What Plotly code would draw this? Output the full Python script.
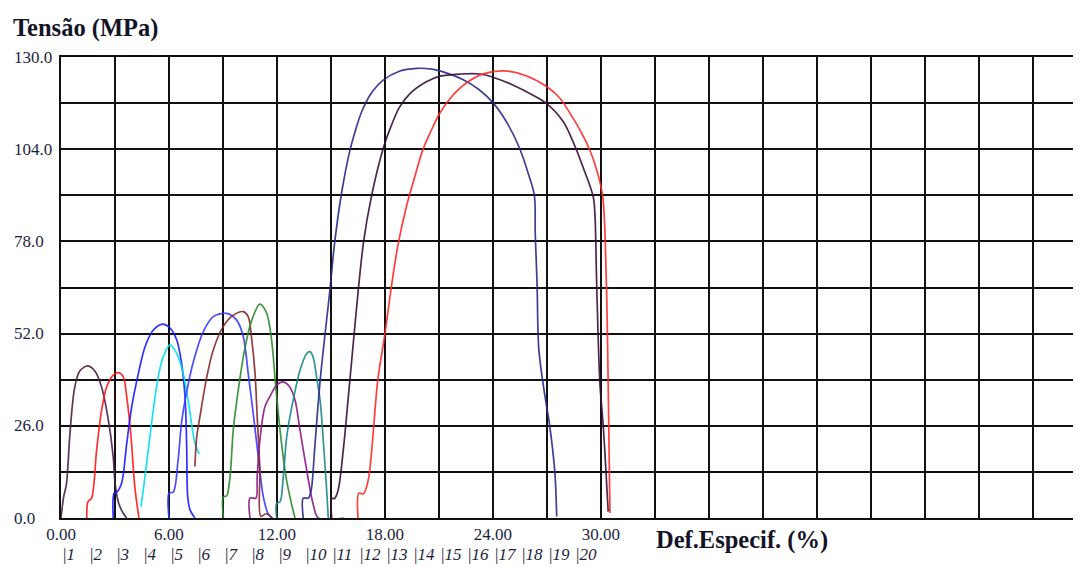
import plotly.graph_objects as go

# ---- data (strain %, stress MPa) ----
x1 = [0.0, 0.15, 0.3, 0.5, 0.75, 1.05, 1.5, 1.9, 2.25, 2.6, 2.9, 3.0, 3.2, 3.45, 3.65]
y1 = [0.0, 6.0, 9.5, 24.0, 36.5, 41.5, 42.9, 41.3, 37.0, 28.6, 17.3, 10.0, 4.2, 1.4, 0.0]

x2 = [1.43, 1.5, 1.7, 1.98, 2.26, 2.54, 2.9, 3.2, 3.46, 3.65, 3.89, 4.1, 4.33]
y2 = [0.0, 4.6, 5.6, 19.2, 30.5, 37.0, 40.3, 41.0, 39.8, 34.2, 22.9, 8.8, 0.0]

x3 = [2.9, 2.95, 3.1, 3.37, 3.65, 3.93, 4.3, 4.67, 5.13, 5.65, 6.05, 6.43, 6.7, 6.89, 6.98, 7.04, 7.17, 7.44]
y3 = [0.0, 7.0, 7.3, 9.9, 21.0, 31.4, 40.8, 48.3, 53.0, 54.7, 53.6, 50.2, 43.6, 34.2, 21.0, 6.0, 2.3, 0.0]

x4 = [4.44, 4.57, 4.85, 5.13, 5.4, 5.68, 6.06, 6.43, 6.8, 7.07, 7.3, 7.45, 7.68]
y4 = [3.2, 7.9, 19.2, 30.5, 39.8, 45.5, 48.8, 46.4, 40.5, 33.0, 25.0, 21.0, 18.0]

x5 = [6.0, 6.0, 6.24, 6.5, 6.7, 6.98, 7.35, 7.9, 8.46, 9.2, 9.76, 10.13, 10.4, 10.7, 10.96, 11.24, 11.5, 11.7]
y5 = [0.0, 7.0, 7.3, 16.0, 27.0, 35.5, 44.0, 52.5, 56.8, 57.7, 55.8, 51.1, 40.8, 28.6, 17.3, 6.0, 1.3, 0.0]

x6 = [7.44, 7.54, 7.72, 8.1, 8.46, 9.0, 9.57, 10.13, 10.4, 10.6, 10.78, 10.9, 11.05, 11.1, 11.4, 11.75]
y6 = [14.5, 22.9, 28.6, 39.8, 47.4, 53.9, 57.2, 58.2, 56.8, 50.2, 40.8, 28.6, 13.5, 0.5, 1.2, 0.0]

x7 = [9.02, 9.02, 9.2, 9.39, 9.57, 9.85, 10.2, 10.6, 11.05, 11.43, 11.7, 11.9, 12.17, 12.5, 12.8, 13.0]
y7 = [0.0, 6.0, 6.2, 11.6, 24.8, 36.1, 47.4, 55.8, 60.3, 57.7, 50.2, 38.9, 24.8, 11.6, 4.1, 0.0]

x8 = [10.5, 10.5, 10.83, 10.9, 11.05, 11.33, 11.6, 11.98, 12.35, 12.7, 13.0, 13.28, 13.65, 14.0, 14.3, 15.7]
y8 = [0.0, 5.6, 5.6, 11.6, 22.0, 31.4, 34.2, 37.5, 38.4, 37.0, 33.3, 24.8, 13.5, 4.1, 0.0, 0.0]

x9 = [11.98, 11.98, 12.17, 12.35, 12.54, 12.9, 13.28, 13.65, 13.83, 14.0, 14.2, 14.4, 14.57, 14.76, 14.85]
y9 = [0.0, 4.1, 4.6, 11.6, 22.9, 33.3, 41.7, 46.4, 46.9, 45.5, 39.8, 33.0, 22.0, 7.9, 0.0]

x10 = [13.46, 13.46, 13.74, 13.9, 14.1, 14.4, 14.94, 15.2, 15.6, 16.06, 16.4, 16.7, 17.2, 17.9,
       18.8, 19.76, 20.6, 21.05, 22.35, 23.2, 24.02, 24.8, 25.5, 26.0, 26.3,
       26.35, 26.45, 26.55, 26.9, 27.13, 27.44, 27.54]
y10 = [0.0, 5.6, 5.6, 7.9, 20.0, 38.9, 64.3, 77.5, 92.0, 103.8, 110.0, 114.5, 119.5, 123.5,
       126.0, 126.8, 126.6, 126.1, 123.6, 120.9, 117.0, 111.3, 104.0, 96.5, 91.0,
       80.0, 66.0, 47.4, 34.0, 26.8, 12.7, 0.4]

x11 = [15.04, 15.04, 15.2, 15.4, 15.7, 16.05, 16.8, 17.26, 17.9, 18.3, 18.8, 19.39, 20.3, 21.05,
       22.2, 23.3, 24.0, 25.1, 26.2, 27.0, 27.9, 28.5, 29.0, 29.57,
       29.67, 29.76, 29.94, 30.13, 30.4]
y11 = [0.0, 5.5, 5.5, 7.9, 20.0, 38.9, 77.5, 91.0, 104.2, 110.0, 115.8, 119.7, 123.0, 124.6,
       125.2, 125.2, 124.3, 122.1, 119.3, 116.8, 111.8, 105.5, 99.0, 90.6,
       85.0, 66.2, 38.0, 25.7, 1.8]

x12 = [16.5, 16.55, 16.8, 17.07, 17.6, 18.0, 18.35, 18.74, 19.2, 19.7, 20.1, 20.5, 21.05, 21.7,
       22.5, 23.5, 24.6, 25.8, 27.0, 27.7, 28.28, 28.9, 29.4, 29.8, 30.1,
       30.3, 30.4, 30.5]
y12 = [0.0, 7.0, 6.8, 10.7, 38.9, 52.0, 65.0, 77.5, 88.0, 97.0, 103.8, 108.5, 114.2, 118.8,
       122.6, 125.3, 126.1, 124.8, 121.6, 118.5, 114.1, 108.8, 103.5, 97.5, 90.6,
       66.3, 38.0, 1.4]

series_x = [x1, x2, x3, x4, x5, x6, x7, x8, x9, x10, x11, x12]
series_y = [y1, y2, y3, y4, y5, y6, y7, y8, y9, y10, y11, y12]
colors = ['#4a2245', '#ff1a1a', '#1a1aff', '#00e0f0', '#3a3aff', '#8b2a2a',
          '#2e8b2e', '#8b1a8b', '#1a8a8a', '#2a2a8a', '#3a1038', '#ff2a2a']

x_grid = [0, 3, 6, 9, 12, 15, 18, 21, 24, 27, 30, 33, 36, 39, 42, 45, 48, 51, 54]
x_labels = {0: '0.00', 6: '6.00', 12: '12.00', 18: '18.00', 24: '24.00', 30: '30.00'}
y_grid = [0, 13, 26, 39, 52, 65, 78, 91, 104, 117, 130]
y_labels = [0, 26, 52, 78, 104, 130]
specimens = list(range(1, 21))
specimen_step = 1.5

# page body has an 8px margin; compensate so the plot lands where the reference has it
OFF = 8
W, H = 1081 - OFF, 567 - OFF
L, T = 61 - OFF, 57 - OFF
R = 0
plot_bottom = 518 - OFF
B = H - plot_bottom
pw, ph = W - L - R, H - T - B
XMAX = 56.67


def py(page_y):
    """page pixel y -> paper fraction"""
    return (plot_bottom - (page_y - OFF)) / ph


def px(page_x):
    return ((page_x - OFF) - L) / pw


txt = '#1e1e3c'
serif = 'Liberation Serif, Times New Roman, serif'

fig = go.Figure()
for xs, ys, c in zip(series_x, series_y, colors):
    fig.add_trace(go.Scatter(x=xs, y=ys, mode='lines',
                             line=dict(color=c, width=1.7, shape='spline', smoothing=0.9),
                             opacity=0.9, showlegend=False, hoverinfo='skip'))

ann = []
for v in y_labels:
    ann.append(dict(text=f'{v:.1f}', xref='paper', yref='y', x=px(12), y=v,
                    xanchor='left', yanchor='middle', showarrow=False,
                    font=dict(family=serif, size=17, color=txt)))
for n in specimens:
    ann.append(dict(text=f'|<i>{n}</i>', xref='x', yref='paper', x=(n - 1) * specimen_step,
                    y=py(554), xanchor='left', yanchor='middle', showarrow=False,
                    font=dict(family=serif, size=17, color=txt)))
ann.append(dict(text='<b>Tensão (MPa)</b>', xref='paper', yref='paper', x=px(11),
                y=py(28), xanchor='left', yanchor='middle', showarrow=False,
                font=dict(family=serif, size=24.5, color='#141428')))
ann.append(dict(text='<b>Def.Especif. (%)</b>', xref='paper', yref='paper', x=px(654),
                y=py(540), xanchor='left', yanchor='middle', showarrow=False,
                font=dict(family=serif, size=24.5, color='#141428')))

fig.update_layout(
    width=W, height=H, margin=dict(l=L, r=R, t=T, b=B),
    paper_bgcolor='white', plot_bgcolor='white',
    annotations=ann,
    xaxis=dict(range=[0, XMAX], tickvals=x_grid,
               ticktext=[x_labels.get(v, '') for v in x_grid],
               showgrid=True, gridcolor='#111111', gridwidth=2, zeroline=False,
               showline=True, linecolor='#111111', linewidth=2, mirror=True,
               ticks='', tickfont=dict(family=serif, size=17, color=txt)),
    yaxis=dict(range=[0, 130], tickvals=y_grid, showticklabels=False,
               showgrid=True, gridcolor='#111111', gridwidth=2, zeroline=False,
               showline=True, linecolor='#111111', linewidth=2, ticks=''),
)

fig.write_html('out.html')
